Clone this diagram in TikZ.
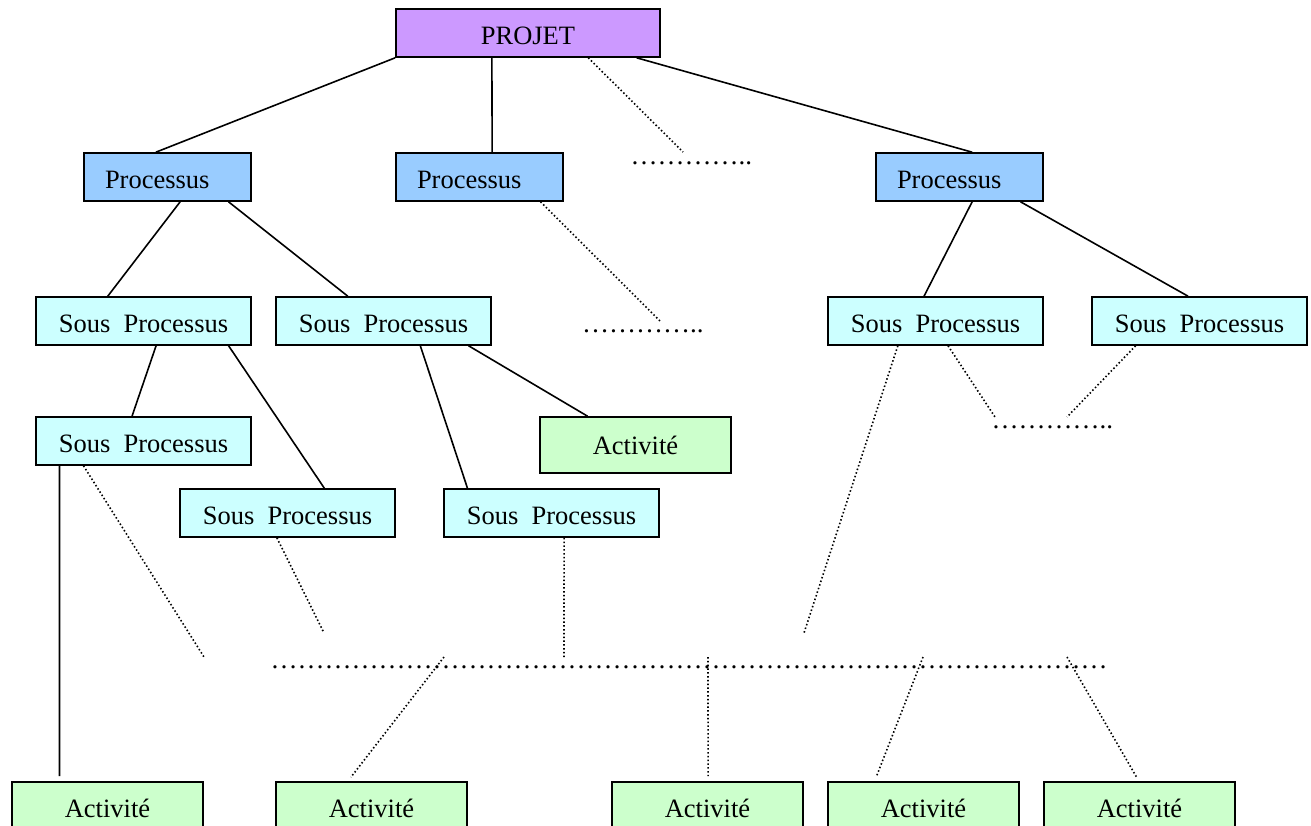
\documentclass[tikz,border=0pt]{standalone}
\usepackage{fontspec}
\setmainfont{Liberation Serif}
\usetikzlibrary{calc}
\definecolor{projetfill}{HTML}{CC99FF}
\definecolor{procfill}{HTML}{99CCFF}
\definecolor{sousfill}{HTML}{CCFFFF}
\definecolor{actfill}{HTML}{CCFFCC}
\begin{document}
\begin{tikzpicture}[x=1pt,y=-1pt,
  box/.style={draw=black,line width=1.6pt,inner sep=0pt,text=black,
    font=\fontsize{26.5}{30}\selectfont,text height=23pt,text depth=0pt},
  projetbox/.style={box,fill=projetfill,minimum width=264pt,minimum height=48pt},
  procbox/.style={box,fill=procfill,minimum height=48pt,text width=125pt,
    inner xsep=21pt,align=left},
  sousbox/.style={box,fill=sousfill,minimum width=215pt,minimum height=48pt},
  actbox/.style={box,fill=actfill,minimum width=191pt,minimum height=56pt,
    text height=18pt},
  lowact/.style={actbox,minimum height=52pt},
  link/.style={draw=black,line width=1.6pt},
  dotlink/.style={draw=black,line width=1.6pt,dash pattern=on 1.5pt off 2.3pt},
  dotrow/.style={inner sep=0pt,anchor=base west,text=black,
    font=\fontsize{27}{30}\selectfont}
]
\useasboundingbox (0,0) rectangle (1311,826);

% boxes
\node[projetbox] (projet) at (528,33) {PROJET};

\node[procbox] (p1) at (167.5,177) {Processus};
\node[procbox] (p2) at (479.5,177) {Processus};
\node[procbox] (p3) at (959.5,177) {Processus};

\node[sousbox] (sA) at (143.5,321) {Sous~~Processus};
\node[sousbox] (sB) at (383.5,321) {Sous~~Processus};
\node[sousbox] (sC) at (935.5,321) {Sous~~Processus};
\node[sousbox] (sD) at (1199.5,321) {Sous~~Processus};
\node[sousbox] (sE) at (143.5,441) {Sous~~Processus};
\node[sousbox] (sF) at (287.5,513) {Sous~~Processus};
\node[sousbox] (sG) at (551.5,513) {Sous~~Processus};

\node[actbox] (aH) at (635.5,445) {Activité};
\node[lowact] (a1) at (107.5,808) {Activité};
\node[lowact] (a2) at (371.5,808) {Activité};
\node[lowact] (a3) at (707.5,808) {Activité};
\node[lowact] (a4) at (923.5,808) {Activité};
\node[lowact] (a5) at (1139.5,808) {Activité};

% rows of dots standing for further elements
\node[dotrow] (d1) at (630.5,164.5) {…………..};
\node[dotrow] (d2) at (582,332.5) {…………..};
\node[dotrow] (d3) at (991.5,428.5) {…………..};
\node[dotrow] (d4) at (270.5,668) {\foreach \i in {1,...,31}{…}};

% free ends of the open branches
\coordinate (e1) at (683,152);
\coordinate (e2) at (660,321);
\coordinate (e3) at (804,633);
\coordinate (e4) at (995,417);
\coordinate (e5) at (1067,417);
\coordinate (e6) at (204,657);
\coordinate (e7) at (324,633);
\coordinate (e8) at (564,657);
\coordinate (f1) at (444,657);
\coordinate (f2) at (708,657);
\coordinate (f3) at (923,657);
\coordinate (f4) at (1067,657);

% solid connectors
\draw[link] (projet.south west) -- ($(p1.north west)!0.431!(p1.north east)$);
\draw[link] ($(projet.south west)!0.364!(projet.south east)$) -- ($(p2.north west)!0.575!(p2.north east)$);
\draw[link] ($(projet.south west)!0.909!(projet.south east)$) -- ($(p3.north west)!0.575!(p3.north east)$);
\draw[link] ($(p1.south west)!0.575!(p1.south east)$) -- ($(sA.north west)!0.335!(sA.north east)$);
\draw[link] ($(p1.south west)!0.862!(p1.south east)$) -- ($(sB.north west)!0.335!(sB.north east)$);
\draw[link] ($(p3.south west)!0.575!(p3.south east)$) -- ($(sC.north west)!0.447!(sC.north east)$);
\draw[link] ($(p3.south west)!0.862!(p3.south east)$) -- ($(sD.north west)!0.447!(sD.north east)$);
\draw[link] ($(sA.south west)!0.558!(sA.south east)$) -- ($(sE.north west)!0.447!(sE.north east)$);
\draw[link] ($(sA.south west)!0.893!(sA.south east)$) -- ($(sF.north west)!0.670!(sF.north east)$);
\draw[link] ($(sB.south west)!0.670!(sB.south east)$) -- ($(sG.north west)!0.112!(sG.north east)$);
\draw[link] ($(sB.south west)!0.893!(sB.south east)$) -- ($(aH.north west)!0.251!(aH.north east)$);
\draw[link,shorten >=5pt] ($(sE.south west)!0.112!(sE.south east)$) -- ($(a1.north west)!0.251!(a1.north east)$);

% dotted connectors
\draw[dotlink] ($(projet.south west)!0.727!(projet.south east)$) -- (e1);
\draw[dotlink] ($(p2.south west)!0.862!(p2.south east)$) -- (e2);
\draw[dotlink] ($(sC.south west)!0.326!(sC.south east)$) -- (e3);
\draw[dotlink] ($(sC.south west)!0.558!(sC.south east)$) -- (e4);
\draw[dotlink] ($(sD.south west)!0.205!(sD.south east)$) -- (e5);
\draw[dotlink] ($(sE.south west)!0.223!(sE.south east)$) -- (e6);
\draw[dotlink] ($(sF.south west)!0.451!(sF.south east)$) -- (e7);
\draw[dotlink] ($(sG.south west)!0.558!(sG.south east)$) -- (e8);
\draw[dotlink,shorten >=5pt] (f1) -- ($(a2.north west)!0.377!(a2.north east)$);
\draw[dotlink,shorten >=5pt] (f2) -- ($(a3.north west)!0.503!(a3.north east)$);
\draw[dotlink,shorten >=5pt] (f3) -- ($(a4.north west)!0.246!(a4.north east)$);
\draw[dotlink,shorten >=5pt] (f4) -- ($(a5.north west)!0.497!(a5.north east)$);
\end{tikzpicture}
\end{document}
